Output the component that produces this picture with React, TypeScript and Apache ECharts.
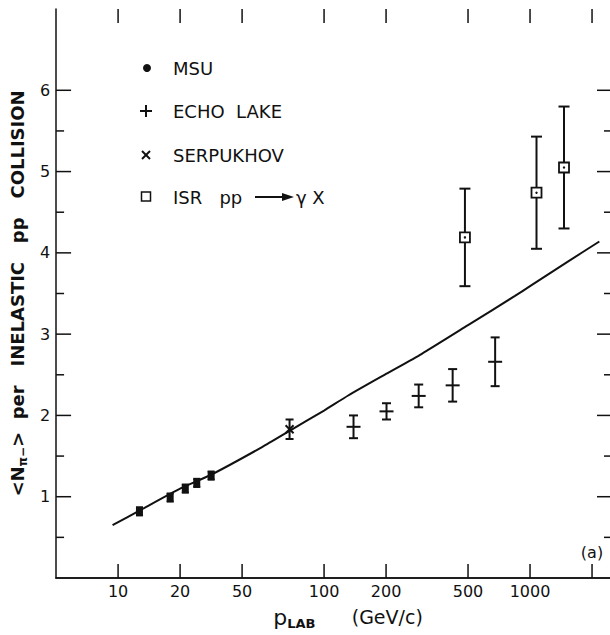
import React, { useEffect, useRef } from "react";
import * as echarts from "echarts";

// ---- data ----
// MSU (filled points)
const msuP = [12.7, 17.9, 21.2, 24.1, 28.3];
const msuN = [0.82, 0.99, 1.1, 1.17, 1.26];
const msuErr = [0.05, 0.05, 0.05, 0.05, 0.05];
// ECHO LAKE (+)
const echoP = [139, 201, 288, 421, 677];
const echoN = [1.86, 2.05, 2.24, 2.37, 2.66];
const echoErr = [0.14, 0.1, 0.14, 0.2, 0.3];
// SERPUKHOV (x)
const serpP = [68];
const serpN = [1.83];
const serpErr = [0.12];
// ISR pp -> gamma X (open squares)
const isrP = [483, 1075, 1462];
const isrN = [4.19, 4.74, 5.05];
const isrErr = [0.6, 0.69, 0.75];
// theory curve
const curveP = [9.4, 12.7, 20, 28.3, 50, 68, 100, 131, 200, 297, 500, 845, 1000, 1500, 2170];
const curveN = [0.65, 0.83, 1.1, 1.27, 1.61, 1.81, 2.06, 2.245, 2.51, 2.755, 3.11, 3.47, 3.59, 3.88, 4.14];

// axis ticks (as printed; the tick labelled "50" sits where 40 falls on the log scale)
const xTickValues = [10, 20, 40, 100, 200, 500, 1000, 2000];
const xTickLabels = ["10", "20", "50", "100", "200", "500", "1000", ""];
const yTickValues = [0.5, 1, 1.5, 2, 2.5, 3, 3.5, 4, 4.5, 5, 5.5, 6];

const X_MIN = 5;
const X_MAX = 2500;
const Y_MIN = 0;
const Y_MAX = 7;
const FONT = "DejaVu Sans";
const INK = "#111";

function errorBars(kind: string, capHalf: number) {
  return (params: any, api: any) => {
    const x = api.value(0);
    const y = api.value(1);
    const e = api.value(2);
    const c = api.coord([x, y]);
    const hi = api.coord([x, y + e]);
    const lo = api.coord([x, y - e]);
    const st = { stroke: INK, lineWidth: 2, fill: null };
    const ch: any[] = [
      { type: "line", shape: { x1: c[0], y1: hi[1], x2: c[0], y2: lo[1] }, style: st },
      { type: "line", shape: { x1: c[0] - capHalf, y1: hi[1], x2: c[0] + capHalf, y2: hi[1] }, style: st },
      { type: "line", shape: { x1: c[0] - capHalf, y1: lo[1], x2: c[0] + capHalf, y2: lo[1] }, style: st },
    ];
    if (kind === "msu") {
      ch.push({ type: "rect", shape: { x: c[0] - 3.5, y: c[1] - 4.5, width: 7, height: 9 }, style: { fill: INK } });
    } else if (kind === "echo") {
      ch.push({ type: "line", shape: { x1: c[0] - 7, y1: c[1], x2: c[0] + 7, y2: c[1] }, style: st });
    } else if (kind === "serp") {
      ch.push({ type: "line", shape: { x1: c[0] - 4, y1: c[1] - 4, x2: c[0] + 4, y2: c[1] + 4 }, style: st });
      ch.push({ type: "line", shape: { x1: c[0] - 4, y1: c[1] + 4, x2: c[0] + 4, y2: c[1] - 4 }, style: st });
    } else if (kind === "isr") {
      ch.push({ type: "rect", shape: { x: c[0] - 5, y: c[1] - 5, width: 10, height: 10 }, style: { fill: "#fff", stroke: INK, lineWidth: 1.8 } });
      ch.push({ type: "circle", shape: { cx: c[0], cy: c[1], r: 1.2 }, style: { fill: INK } });
    }
    return { type: "group", children: ch };
  };
}

export default function App() {
  const ref = useRef<HTMLDivElement>(null);
  useEffect(() => {
    const chart = echarts.init(ref.current!, null, { renderer: "svg" });
    const axisLine = { show: true, lineStyle: { color: INK, width: 1.5 } };
    const option: any = {
      animation: false,
      backgroundColor: "#fff",
      grid: { left: 52, right: 4, top: 9, bottom: 52, containLabel: false },
      xAxis: [
        {
          type: "log",
          logBase: 10,
          min: X_MIN,
          max: X_MAX,
          position: "bottom",
          axisLine,
          axisTick: { show: false },
          axisLabel: { show: false },
          splitLine: { show: false },
          minorTick: { show: false },
          name: "{p|p}{s|LAB}{u|      (GeV/c)}",
          nameLocation: "middle",
          nameGap: 26,
          nameTextStyle: {
            padding: [0, 0, 0, 28],
            rich: {
              p: { fontFamily: FONT, fontSize: 22, color: INK, lineHeight: 26, verticalAlign: "middle" },
              s: { fontFamily: FONT, fontSize: 13, fontWeight: "bold", color: INK, lineHeight: 12, verticalAlign: "bottom" },
              u: { fontFamily: FONT, fontSize: 19, color: INK, lineHeight: 26, verticalAlign: "middle" },
            },
          },
        },
        {
          type: "log",
          logBase: 10,
          min: X_MIN,
          max: X_MAX,
          position: "top",
          axisLine,
          axisTick: { show: false },
          axisLabel: { show: false },
          splitLine: { show: false },
        },
      ],
      yAxis: [
        {
          type: "value",
          min: Y_MIN,
          max: Y_MAX,
          interval: 1,
          position: "left",
          axisLine,
          axisTick: { show: false },
          splitLine: { show: false },
          axisLabel: {
            formatter: (v: number) => (v > Y_MIN && v < Y_MAX ? String(v) : ""),
            fontFamily: FONT,
            fontSize: 16,
            color: INK,
            margin: 6,
          },
          name: "{t|<N}{s|π−}{t|>  per   INELASTIC   pp   COLLISION}",
          nameLocation: "middle",
          nameRotate: 90,
          nameGap: 26,
          nameTextStyle: {
            rich: {
              t: { fontFamily: FONT, fontSize: 18, fontWeight: "bold", color: INK, lineHeight: 24, verticalAlign: "middle" },
              s: { fontFamily: FONT, fontSize: 12, fontWeight: "bold", color: INK, lineHeight: 12, verticalAlign: "bottom" },
            },
          },
        },
        {
          type: "value",
          min: Y_MIN,
          max: Y_MAX,
          interval: 1,
          position: "right",
          axisLine,
          axisTick: { show: false },
          axisLabel: { show: false },
          splitLine: { show: false },
        },
      ],
      graphic: [
        { type: "circle", shape: { cx: 147, cy: 68, r: 4 }, style: { fill: INK } },
        { type: "text", x: 173, y: 68, style: { text: "MSU", fontFamily: FONT, fontSize: 18, fill: INK, verticalAlign: "middle" } },
        { type: "line", shape: { x1: 140, y1: 111, x2: 152, y2: 111 }, style: { stroke: INK, lineWidth: 2 } },
        { type: "line", shape: { x1: 146, y1: 105, x2: 146, y2: 117 }, style: { stroke: INK, lineWidth: 2 } },
        { type: "text", x: 173, y: 111, style: { text: "ECHO  LAKE", fontFamily: FONT, fontSize: 18, fill: INK, verticalAlign: "middle" } },
        { type: "line", shape: { x1: 142, y1: 151, x2: 150, y2: 159 }, style: { stroke: INK, lineWidth: 2 } },
        { type: "line", shape: { x1: 142, y1: 159, x2: 150, y2: 151 }, style: { stroke: INK, lineWidth: 2 } },
        { type: "text", x: 173, y: 155, style: { text: "SERPUKHOV", fontFamily: FONT, fontSize: 18, fill: INK, verticalAlign: "middle" } },
        { type: "rect", shape: { x: 141.5, y: 192, width: 9, height: 9 }, style: { fill: "#fff", stroke: INK, lineWidth: 1.5 } },
        { type: "text", x: 173, y: 197, style: { text: "ISR   pp", fontFamily: FONT, fontSize: 18, fill: INK, verticalAlign: "middle" } },
        { type: "line", shape: { x1: 255, y1: 197, x2: 284, y2: 197 }, style: { stroke: INK, lineWidth: 2 } },
        { type: "polygon", shape: { points: [[282, 193], [294, 197], [282, 201]] }, style: { fill: INK } },
        { type: "text", x: 296, y: 197, style: { text: "γ X", fontFamily: FONT, fontSize: 18, fill: INK, verticalAlign: "middle" } },
        { type: "text", x: 592, y: 552, style: { text: "(a)", fontFamily: FONT, fontSize: 16, fill: INK, align: "center", verticalAlign: "middle" } },
      ],
      series: [
        {
          name: "theory",
          type: "line",
          data: curveP.map((p, i) => [p, curveN[i]]),
          symbol: "none",
          smooth: 0.2,
          lineStyle: { color: INK, width: 2 },
          silent: true,
          z: 2,
        },
        {
          name: "x ticks",
          type: "custom",
          clip: false,
          silent: true,
          z: 5,
          data: xTickValues.map((v, i) => [v, Y_MIN, i]),
          renderItem: (params: any, api: any) => {
            const v = api.value(0);
            const i = api.value(2);
            const b = api.coord([v, Y_MIN]);
            const t = api.coord([v, Y_MAX]);
            const st = { stroke: INK, lineWidth: 1.5 };
            return {
              type: "group",
              children: [
                { type: "line", shape: { x1: b[0], y1: b[1], x2: b[0], y2: b[1] - 14 }, style: st },
                { type: "line", shape: { x1: t[0], y1: t[1], x2: t[0], y2: t[1] + 14 }, style: st },
                {
                  type: "text",
                  style: {
                    text: xTickLabels[i],
                    x: b[0],
                    y: b[1] + 13,
                    align: "center",
                    verticalAlign: "middle",
                    fontFamily: FONT,
                    fontSize: 16,
                    fill: INK,
                  },
                },
              ],
            };
          },
        },
        {
          name: "y ticks",
          type: "custom",
          clip: false,
          silent: true,
          z: 5,
          data: yTickValues.map((v) => [X_MIN, v]),
          renderItem: (params: any, api: any) => {
            const v = api.value(1);
            const len = Number.isInteger(v) ? 15 : 8;
            const l = api.coord([X_MIN, v]);
            const r = api.coord([X_MAX, v]);
            const st = { stroke: INK, lineWidth: 1.5 };
            return {
              type: "group",
              children: [
                { type: "line", shape: { x1: l[0], y1: l[1], x2: l[0] + len, y2: l[1] }, style: st },
                { type: "line", shape: { x1: r[0], y1: r[1], x2: r[0] - len, y2: r[1] }, style: st },
              ],
            };
          },
        },
        {
          name: "MSU",
          type: "custom",
          clip: false,
          z: 4,
          data: msuP.map((p, i) => [p, msuN[i], msuErr[i]]),
          renderItem: errorBars("msu", 3.5),
        },
        {
          name: "ECHO LAKE",
          type: "custom",
          clip: false,
          z: 4,
          data: echoP.map((p, i) => [p, echoN[i], echoErr[i]]),
          renderItem: errorBars("echo", 4.5),
        },
        {
          name: "SERPUKHOV",
          type: "custom",
          clip: false,
          z: 4,
          data: serpP.map((p, i) => [p, serpN[i], serpErr[i]]),
          renderItem: errorBars("serp", 4),
        },
        {
          name: "ISR",
          type: "custom",
          clip: false,
          z: 4,
          data: isrP.map((p, i) => [p, isrN[i], isrErr[i]]),
          renderItem: errorBars("isr", 5.5),
        },
      ],
    };
    chart.setOption(option);
    return () => chart.dispose();
  }, []);
  return (
    <div
      style={{
        position: "absolute",
        left: 0,
        top: 0,
        width: 610,
        height: 635,
        overflow: "hidden",
        background: "#fff",
      }}
    >
      <div ref={ref} style={{ width: 616, height: 635 }} />
    </div>
  );
}
